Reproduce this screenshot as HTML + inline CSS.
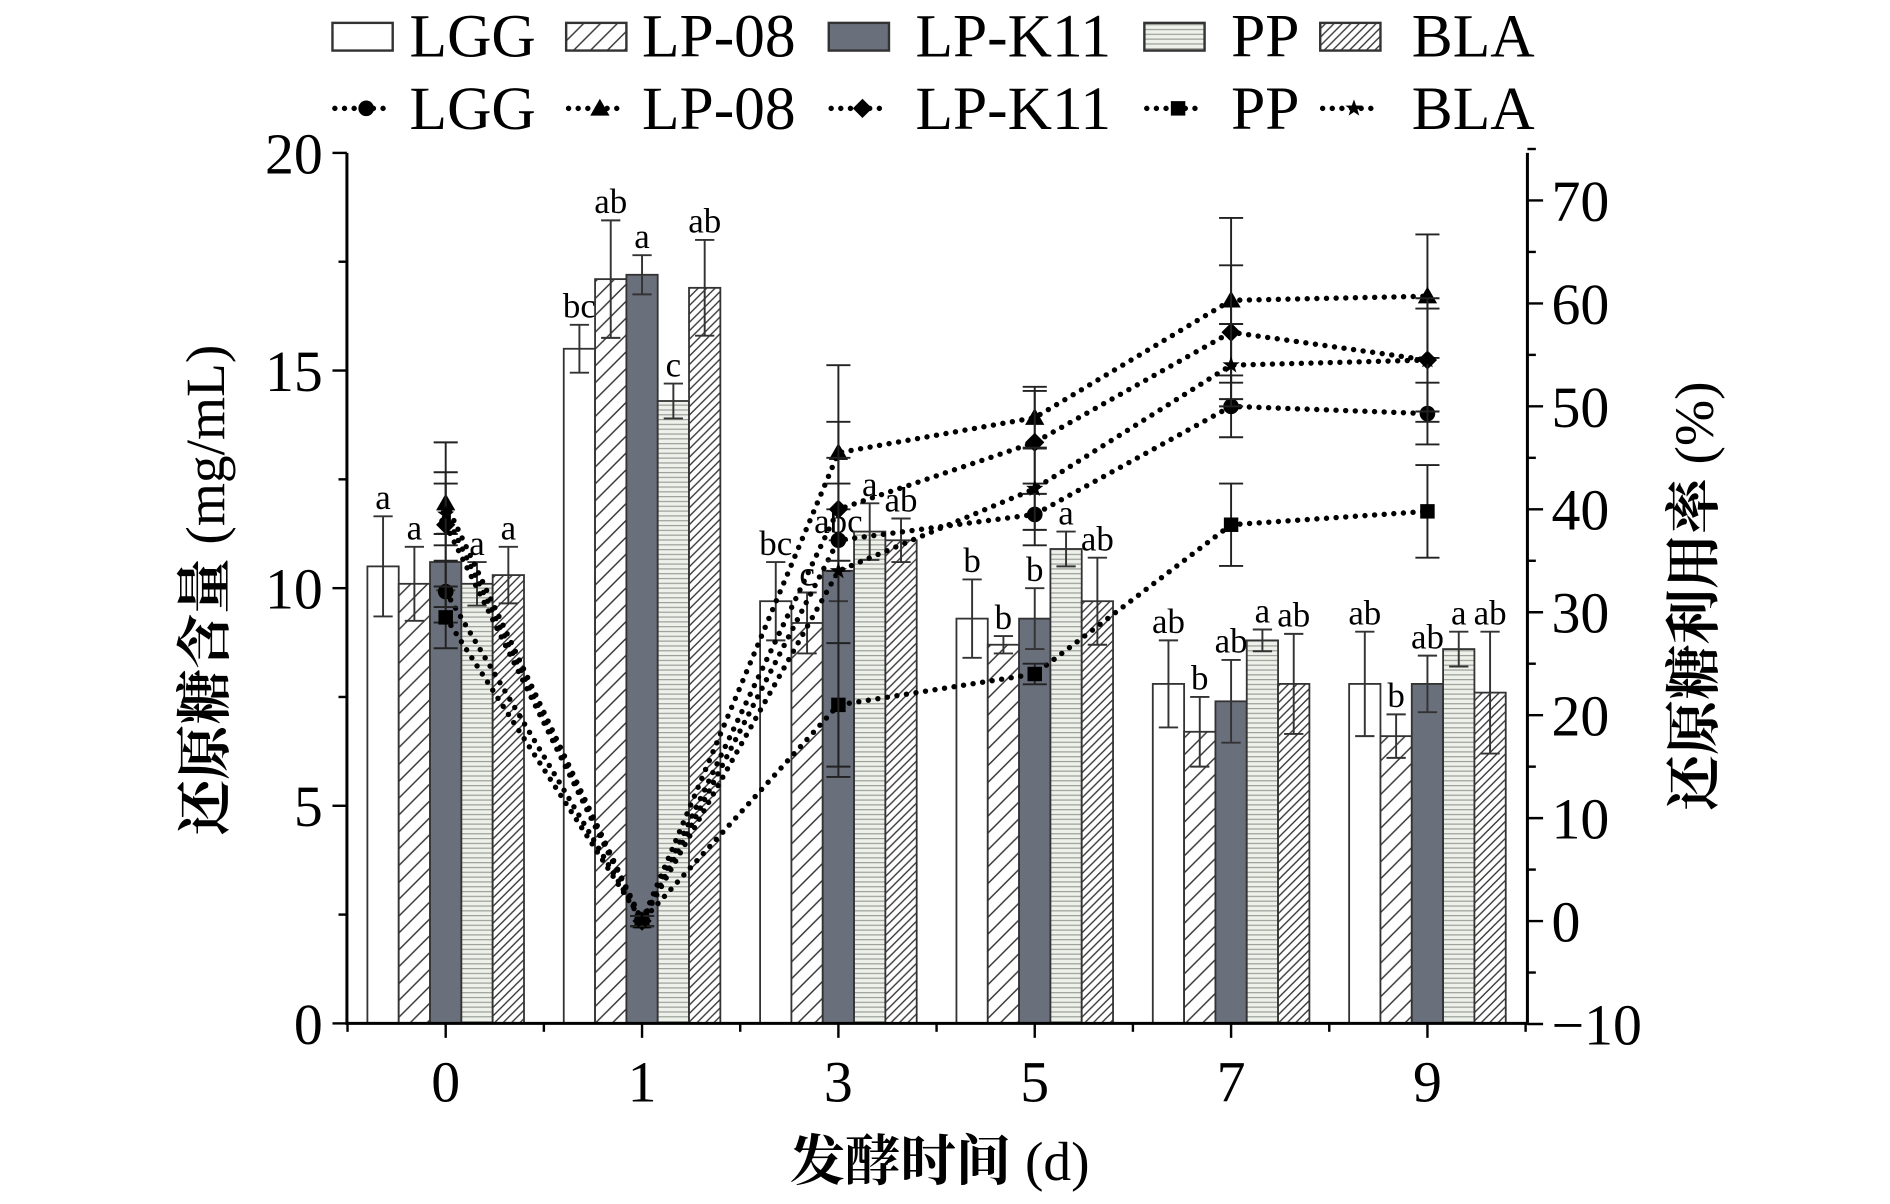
<!DOCTYPE html>
<html><head><meta charset="utf-8"><style>
html,body{margin:0;padding:0;background:#fff;}
svg{display:block;}
text{font-family:"Liberation Serif","Noto Serif CJK SC",serif;fill:#000;}
</style></head><body>
<svg id="chart" width="1890" height="1204" viewBox="0 0 1569 1000" preserveAspectRatio="none" xmlns="http://www.w3.org/2000/svg">
<defs>
<pattern id="pLP08" patternUnits="userSpaceOnUse" width="14" height="14"><rect width="14" height="14" fill="#fff"/><path d="M0,14 L14,0 M-3,3 L3,-3 M11,17 L17,11" stroke="#333" stroke-width="1.2"/></pattern>
<pattern id="pPP" patternUnits="userSpaceOnUse" width="4" height="4"><rect width="4" height="4" fill="#eef0ea"/><path d="M0,0.5 L4,0.5" stroke="#9a9f98" stroke-width="1"/></pattern>
<pattern id="pBLA" patternUnits="userSpaceOnUse" width="7" height="7"><rect width="7" height="7" fill="#fff"/><path d="M0,7 L7,0 M-2,2 L2,-2 M5,9 L9,5" stroke="#333" stroke-width="1.1"/></pattern>
</defs>
<g id="plot"></g>
</svg>
<script>
const categories=["0","1","3","5","7","9"];
const barSeries=["LGG","LP-08","LP-K11","PP","BLA"];
const barLGG=[10.5,15.5,9.7,9.3,7.8,7.8];
const barLP08=[10.1,17.1,9.2,8.7,6.7,6.6];
const barK11=[10.6,17.2,10.4,9.3,7.4,7.8];
const barPP=[10.1,14.3,11.3,10.9,8.8,8.6];
const barBLA=[10.3,16.9,11.1,9.7,7.8,7.6];
const errLGG=[1.15,0.55,0.9,0.9,1.0,1.2];
const errLP08=[0.85,1.35,0.7,0.2,0.8,0.5];
const errK11=[0.65,0.45,0.7,0.7,0.95,0.65];
const errPP=[0.5,0.4,0.65,0.4,0.25,0.4];
const errBLA=[0.65,1.1,0.5,1.0,1.15,1.4];
const sigLGG=["a","bc","bc","b","ab","ab"];
const sigLP08=["a","ab","c","b","b","b"];
const sigK11=["a","a","abc","b","ab","ab"];
const sigPP=["a","c","a","a","a","a"];
const sigBLA=["a","ab","ab","ab","ab","ab"];
const lineLGG=[32,0,37,39.5,50,49.3];
const lineLP08=[40.6,0,45.5,48.9,60.3,60.7];
const lineK11=[38.5,0,40,46.5,57.2,54.5];
const linePP=[29.5,0,21,24,38.5,39.8];
const lineBLA=[39.5,0,34,42,54,54.5];
const lerrLGG=[3,0.5,3,3,3,3];
const lerrLP08=[3,0.5,3,3,8,6];
const lerrK11=[8,0.5,5,5,6.5,6];
const lerrPP=[3,0.5,6,1,4,4.5];
const lerrBLA=[3,0.5,20,4,4,5];
const leftTicks=[0,5,10,15,20];
const rightTicks=[-10,0,10,20,30,40,50,60,70];

const NS="http://www.w3.org/2000/svg";
const g=document.getElementById('plot');
const X0=288,X1=1268,Ybot=850,Ytop=127;
const yL=v=>Ybot-(v/20)*(Ybot-Ytop);
const yR=v=>765-v*8.55;
const xC=i=>370+i*163;
function mk(tag,attrs,parent){const e=document.createElementNS(NS,tag);for(const k in attrs)e.setAttribute(k,attrs[k]);(parent||g).appendChild(e);return e;}

const bars=[barLGG,barLP08,barK11,barPP,barBLA];
const errs=[errLGG,errLP08,errK11,errPP,errBLA];
const sigs=[sigLGG,sigLP08,sigK11,sigPP,sigBLA];
const fills=["#fff","url(#pLP08)","#6a6f7c","url(#pPP)","url(#pBLA)"];
const keys=["lgg","lp08","lpk11","pp","bla"];
const BW=26;
categories.forEach((c,i)=>{
  bars.forEach((s,j)=>{
    const x=xC(i)+(j-2)*BW-BW/2;
    const r=mk('rect',{x:x,y:yL(s[i]),width:BW,height:Ybot-yL(s[i]),fill:fills[j],stroke:"#333",'stroke-width':1.5});
    
    
    const cx=x+BW/2,t=yL(s[i]+errs[j][i]),b=yL(s[i]-errs[j][i]);
    const e=mk('path',{d:`M${cx},${t}V${b}M${cx-8},${t}H${cx+8}M${cx-8},${b}H${cx+8}`,stroke:"#333",'stroke-width':1.6,fill:"none"});
    
    
    const tx=mk('text',{x:cx,y:t-6,'font-size':29,'text-anchor':'middle'});
    tx.textContent=sigs[j][i];
    
    
  });
});

const lines=[lineLGG,lineLP08,lineK11,linePP,lineBLA];
const lerrs=[lerrLGG,lerrLP08,lerrK11,lerrPP,lerrBLA];
const markers=["circle","tri","diamond","square","star"];
function marker(type,x,y,parent){
  if(type==="circle")return mk('circle',{cx:x,cy:y,r:6.5,fill:"#000"},parent);
  if(type==="tri")return mk('path',{d:`M${x},${y-8}L${x+8},${y+6}L${x-8},${y+6}Z`,fill:"#000"},parent);
  if(type==="diamond")return mk('path',{d:`M${x},${y-8}L${x+8},${y}L${x},${y+8}L${x-8},${y}Z`,fill:"#000"},parent);
  if(type==="square")return mk('rect',{x:x-6,y:y-6,width:12,height:12,fill:"#000"},parent);
  let d="";for(let k=0;k<10;k++){const a=-Math.PI/2+k*Math.PI/5,rr=k%2?3:7.5;d+=(k?"L":"M")+(x+rr*Math.cos(a))+","+(y+rr*Math.sin(a));}
  return mk('path',{d:d+"Z",fill:"#000"},parent);
}
lines.forEach((s,j)=>{
  const pts=s.map((v,i)=>xC(i)+","+yR(v)).join(" ");
  const pl=mk('polyline',{points:pts,fill:"none",stroke:"#000",'stroke-width':4.5,'stroke-dasharray':"0 8",'stroke-linecap':"round"});
  
  
  s.forEach((v,i)=>{
    const cx=xC(i),t=yR(v+lerrs[j][i]),b=yR(v-lerrs[j][i]);
    const e=mk('path',{d:`M${cx},${t}V${b}M${cx-10},${t}H${cx+10}M${cx-10},${b}H${cx+10}`,stroke:"#222",'stroke-width':1.6,fill:"none"});
    
    
    const m=marker(markers[j],cx,yR(v));
    
    
  });
});

const ax=mk('path',{d:`M${X0},${Ytop}V${Ybot}H${X1}V${Ytop}`,fill:"none",stroke:"#000",'stroke-width':2.5});


leftTicks.forEach(v=>{
  mk('line',{x1:X0-12,x2:X0,y1:yL(v),y2:yL(v),stroke:"#000",'stroke-width':2});
  if(v<20)mk('line',{x1:X0-7,x2:X0,y1:yL(v+2.5),y2:yL(v+2.5),stroke:"#000",'stroke-width':2});
  const t=mk('text',{x:X0-20,y:yL(v)+17,'font-size':48,'text-anchor':'end'});t.textContent=v;
  
  
});
rightTicks.forEach(v=>{
  mk('line',{x1:X1,x2:X1+13,y1:yR(v),y2:yR(v),stroke:"#000",'stroke-width':2});
  mk('line',{x1:X1,x2:X1+7,y1:yR(v+5),y2:yR(v+5),stroke:"#000",'stroke-width':2});
  const t=mk('text',{x:X1+20,y:yR(v)+17,'font-size':48});t.textContent=(v<0?"\u2212"+(-v):v);
  
  
});
categories.forEach((c,i)=>{
  mk('line',{x1:xC(i),x2:xC(i),y1:Ybot,y2:Ybot+12,stroke:"#000",'stroke-width':2});
  mk('line',{x1:xC(i)+81.5,x2:xC(i)+81.5,y1:Ybot,y2:Ybot+7,stroke:"#000",'stroke-width':2});
  if(i==0)mk('line',{x1:xC(i)-81.5,x2:xC(i)-81.5,y1:Ybot,y2:Ybot+7,stroke:"#000",'stroke-width':2});
  const t=mk('text',{x:xC(i),y:915,'font-size':48,'text-anchor':'middle'});t.textContent=c;
  
  
});
function title(cn,lat,x,y,rot,name){
  const t=mk('text',{x:x,y:y,'font-size':46,'text-anchor':'middle',transform:rot?`rotate(-90 ${x} ${y})`:''});
  const a=mk('tspan',{'font-weight':'bold'},t);a.textContent=cn;
  const b=mk('tspan',{},t);b.textContent=lat;
  }
title("还原糖含量"," (mg/mL)",186,490,true,"y-axis-title-left");
title("还原糖利用率"," (%)",1422,495,true,"y-axis-title-right");
title("发酵时间"," (d)",780,980,false,"x-axis-title");

const lgX=[276,470,688,950,1096], lgT=[340,533,760,1022,1172];
barSeries.forEach((n,j)=>{
  const r=mk('rect',{x:lgX[j],y:19,width:50,height:23,fill:fills[j],stroke:"#333",'stroke-width':2});
  
  
  const t=mk('text',{x:lgT[j],y:47,'font-size':51});t.textContent=n;
  
  
  const l=mk('line',{x1:lgX[j]+2,x2:lgX[j]+50,y1:90,y2:90,stroke:"#000",'stroke-width':4.5,'stroke-dasharray':"0 8",'stroke-linecap':"round"});
  
  
  marker(markers[j],lgX[j]+28,90);
  const t2=mk('text',{x:lgT[j],y:107,'font-size':51});t2.textContent=n;
  
  
});
</script>
</body></html>
